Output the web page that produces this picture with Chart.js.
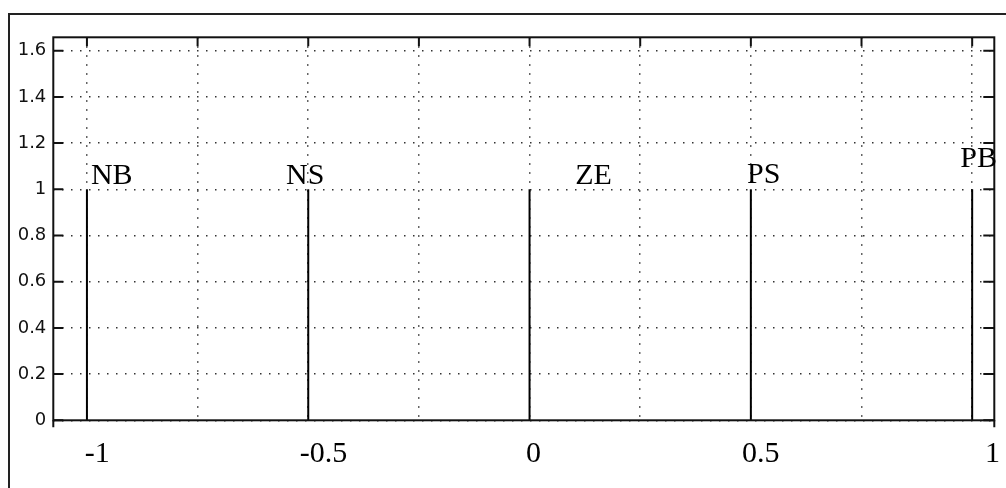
<!DOCTYPE html>
<html>
<head>
<meta charset="utf-8">
<script src="https://cdn.jsdelivr.net/npm/chart.js@4/dist/chart.umd.min.js"></script>
<style>
  html, body { margin: 0; padding: 0; background: #fff; overflow: hidden; }
  #wrap { position: relative; width: 1006px; height: 488px; }
  #frame { position: absolute; left: 8px; top: 13px; width: 1100px; height: 600px;
           border-top: 2px solid #222; border-left: 2px solid #222; pointer-events: none; }
  canvas { position: absolute; left: 0; top: 0; }
</style>
</head>
<body>
<div id="wrap">
  <canvas id="mfChart" width="1006" height="488"></canvas>
  <div id="frame"></div>
</div>
<script>
// singleton membership functions
const mfNames   = ['NB', 'NS', 'ZE', 'PS', 'PB'];
const mfCenters = [-1, -0.5, 0, 0.5, 1];
const mfHeights = [1, 1, 1, 1, 1];

// where each name was written (data units, left / baseline)
const nameX = [-0.991, -0.550, 0.103, 0.4915, 0.973];
const nameY = [1.023, 1.023, 1.023, 1.027, 1.097];

// x labels typed under the axis
const xLabelText = ['-1', '-0.5', '0', '0.5', '1'];
const xLabelX    = [-1.005, -0.519, -0.008, 0.480, 1.029];
const xLabelY    = -0.18;

const xMin = -1.076, xMax = 1.050, xStep = 0.25;
const yMin = 0, yMax = 1.658, yStep = 0.2;

let datasets = [];
for (let i = 0; i < mfCenters.length; i++) {
    datasets.push({
        label: mfNames[i],
        data: [{ x: mfCenters[i], y: 0 }, { x: mfCenters[i], y: mfHeights[i] }],
        borderColor: '#000',
        borderWidth: 2,
        pointRadius: 0,
        tension: 0
    });
}

const matlabAxes = {
    id: 'matlabAxes',
    afterDatasetsDraw(chart) {
        const ctx = chart.ctx;
        const a = chart.chartArea;
        const xs = chart.scales.x, ys = chart.scales.y;
        ctx.save();
        ctx.strokeStyle = '#111';
        ctx.lineWidth = 2;
        // box
        ctx.strokeRect(a.left, a.top, a.right - a.left, a.bottom - a.top);
        ctx.beginPath();
        ctx.moveTo(a.left, a.bottom); ctx.lineTo(a.left, a.bottom + 7);
        ctx.moveTo(a.right, a.bottom); ctx.lineTo(a.right, a.bottom + 7);
        // inward ticks
        ys.ticks.forEach(t => {
            const py = ys.getPixelForValue(t.value);
            ctx.moveTo(a.left, py); ctx.lineTo(a.left + 10, py);
            ctx.moveTo(a.right, py); ctx.lineTo(a.right - 11, py);
        });
        xs.ticks.forEach(t => {
            const px = xs.getPixelForValue(t.value);
            ctx.moveTo(px, a.top); ctx.lineTo(px, a.top + 9);
        });
        ctx.stroke();

        ctx.fillStyle = '#000';
        ctx.font = '30px "Liberation Serif", "Times New Roman", serif';
        ctx.textAlign = 'left';
        ctx.textBaseline = 'alphabetic';
        for (let i = 0; i < mfNames.length; i++) {
            ctx.fillText(mfNames[i], xs.getPixelForValue(nameX[i]), ys.getPixelForValue(nameY[i]));
        }
        for (let i = 0; i < xLabelText.length; i++) {
            ctx.fillText(xLabelText[i], xs.getPixelForValue(xLabelX[i]), ys.getPixelForValue(xLabelY));
        }
        ctx.restore();
    }
};

const config = {
    type: 'line',
    data: { datasets: datasets },
    options: {
        responsive: false,
        animation: false,
        devicePixelRatio: 1,
        layout: { padding: { top: 37.3, right: 11.7, left: 0, bottom: 0 } },
        plugins: { legend: { display: false }, tooltip: { enabled: false } },
        scales: {
            x: {
                type: 'linear',
                min: xMin, max: xMax,
                ticks: { stepSize: xStep, includeBounds: false, display: false },
                grid: { color: '#333', lineWidth: 1.5, drawTicks: false },
                border: { display: false, dash: [1.5, 7.5] },
                afterFit: s => { s.height = 67.7; }
            },
            y: {
                type: 'linear',
                min: yMin, max: yMax,
                ticks: {
                    stepSize: yStep, includeBounds: false, padding: 7, color: '#111',
                    font: { family: '"DejaVu Sans", sans-serif', size: 18 },
                    callback: v => Math.round(v * 10) / 10
                },
                grid: { color: '#333', lineWidth: 1.5, drawTicks: false },
                border: { display: false, dash: [1.5, 7.5] },
                afterFit: s => { s.width = 53.3; }
            }
        }
    },
    plugins: [matlabAxes]
};

const ctx = document.getElementById('mfChart').getContext('2d');
let myChart = new Chart(ctx, config);
</script>
</body>
</html>
